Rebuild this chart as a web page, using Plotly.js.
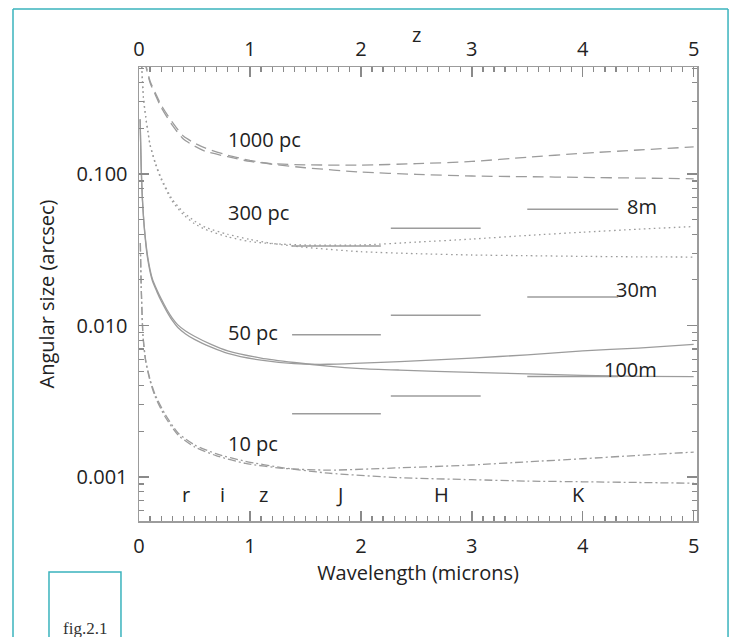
<!DOCTYPE html>
<html>
<head>
<meta charset="utf-8">
<script src="https://cdn.plot.ly/plotly-3.0.1.min.js"></script>
<style>html,body{margin:0;padding:0;background:#fff;}#chart{width:731px;height:637px;}</style>
</head>
<body>
<div id="chart"></div>
<script>
// ---- data ----
// 1000 pc (dashed)
const wl1000 = [0.05, 0.1, 0.15, 0.2, 0.3, 0.4, 0.5, 0.6, 0.8, 1.0, 1.2, 1.5, 2.0, 2.5, 3.0, 3.5, 4.0, 4.5, 5.0];
const as1000A = [0.56, 0.40, 0.33, 0.275, 0.21, 0.17, 0.153, 0.141, 0.130, 0.121, 0.117, 0.115, 0.1145, 0.117, 0.121, 0.129, 0.137, 0.144, 0.151];
const as1000B = [0.57, 0.41, 0.34, 0.285, 0.22, 0.178, 0.16, 0.148, 0.133, 0.123, 0.116, 0.110, 0.103, 0.0995, 0.097, 0.096, 0.095, 0.094, 0.093];
// 300 pc (dotted)
const wl300 = [0.02, 0.04, 0.06, 0.08, 0.1, 0.15, 0.2, 0.3, 0.4, 0.5, 0.6, 0.8, 1.0, 1.2, 1.5, 2.0, 2.5, 3.0, 3.5, 4.0, 4.5, 5.0];
const as300A = [0.6, 0.32, 0.24, 0.19, 0.155, 0.115, 0.092, 0.066, 0.054, 0.047, 0.043, 0.0385, 0.0358, 0.0347, 0.034, 0.034, 0.0355, 0.0372, 0.0393, 0.0413, 0.0432, 0.045];
const as300B = [0.6, 0.32, 0.24, 0.19, 0.156, 0.117, 0.094, 0.068, 0.056, 0.049, 0.0445, 0.040, 0.037, 0.0348, 0.0328, 0.0307, 0.0298, 0.0292, 0.0289, 0.0286, 0.0284, 0.0283];
// 50 pc (solid)
const wl50 = [0.01, 0.02, 0.03, 0.05, 0.08, 0.12, 0.16, 0.2, 0.25, 0.3, 0.35, 0.42, 0.5, 0.65, 0.8, 1.1, 1.4, 1.7, 2.0, 2.35, 3.0, 3.5, 4.0, 4.5, 5.0];
const as50A = [0.23, 0.11, 0.07, 0.042, 0.027, 0.0198, 0.0168, 0.0145, 0.0124, 0.0108, 0.0097, 0.0088, 0.0081, 0.0072, 0.00655, 0.0059, 0.0056, 0.00555, 0.00565, 0.00578, 0.0061, 0.0064, 0.0068, 0.0071, 0.0075];
const as50B = [0.23, 0.11, 0.07, 0.043, 0.028, 0.0204, 0.0173, 0.0150, 0.0128, 0.0112, 0.0101, 0.0092, 0.0085, 0.0075, 0.0068, 0.0061, 0.0057, 0.0054, 0.0052, 0.00508, 0.0049, 0.0048, 0.00468, 0.00462, 0.0046];
// 10 pc (dash-dot)
const wl10 = [0.012, 0.02, 0.036, 0.06, 0.1, 0.145, 0.235, 0.35, 0.5, 0.7, 0.96, 1.3, 1.71, 2.35, 3.0, 3.5, 4.0, 4.5, 5.0];
const as10A = [0.035, 0.018, 0.0085, 0.0058, 0.0043, 0.0034, 0.0025, 0.0019, 0.00158, 0.00138, 0.00123, 0.00114, 0.00111, 0.00115, 0.0012, 0.00126, 0.00132, 0.00139, 0.00146];
const as10B = [0.035, 0.018, 0.0086, 0.0059, 0.0044, 0.0035, 0.0026, 0.00196, 0.00163, 0.00142, 0.00127, 0.00115, 0.00106, 0.00099, 0.00096, 0.00094, 0.00093, 0.00092, 0.00091];

// telescope diffraction bars (J, H, K)
const bandStart = [1.38, 2.27, 3.50];
const bandEnd = [2.18, 3.08, 4.32];
const bar8m = [0.0335, 0.0438, 0.0585];
const bar30m = [0.0087, 0.0117, 0.0154];
const bar100m = [0.00262, 0.00343, 0.0046];

// text labels
const distLabels = ["1000 pc", "300 pc", "50 pc", "10 pc"];
const distLabelY = [0.168, 0.056, 0.0090, 0.00167];
const telLabels = ["8m", "30m", "100m"];
const telLabelY = [0.0610, 0.0172, 0.00510];
const bandLabels = ["r", "i", "z", "J", "H", "K"];
const bandLabelX = [0.42, 0.75, 1.12, 1.81, 2.73, 3.96];
const xTickVals = [0, 1, 2, 3, 4, 5];

// ---- build ----
const grey = '#9c9c9c';
const tickGrey = '#8a8a8a';
const txt = '#222222';
const teal = '#3ab3bd';
const FONT = '"Open Sans", "Noto Sans", sans-serif';
const XR = [0, 5.03];

const traces = [];
function curve(x, y, dash) {
  traces.push({x: x, y: y, type: 'scatter', mode: 'lines', hoverinfo: 'skip',
    line: {color: grey, width: 1.3, dash: dash, shape: 'spline', smoothing: 0.6}});
}
curve(wl1000, as1000A, '11px,6px');
curve(wl1000, as1000B, '11px,6px');
curve(wl300, as300A, '1.6px,3.4px');
curve(wl300, as300B, '1.6px,3.4px');
curve(wl50, as50A, 'solid');
curve(wl50, as50B, 'solid');
curve(wl10, as10A, '8px,3px,2px,3px');
curve(wl10, as10B, '8px,3px,2px,3px');

[bar8m, bar30m, bar100m].forEach(function (vals) {
  for (let i = 0; i < vals.length; i++) {
    traces.push({x: [bandStart[i], bandEnd[i]], y: [vals[i], vals[i]], type: 'scatter', mode: 'lines',
      hoverinfo: 'skip', line: {color: grey, width: 1.5}});
  }
});
// invisible trace for the top axis
traces.push({x: [0, 5], y: [0.01, 0.01], xaxis: 'x2', yaxis: 'y', mode: 'none', type: 'scatter', hoverinfo: 'skip'});

const annotations = [];
distLabels.forEach(function (t, i) {
  annotations.push({x: 0.78, y: Math.log10(distLabelY[i]), xref: 'x', yref: 'y', text: t, showarrow: false,
    xanchor: 'left', yanchor: 'middle', font: {family: FONT, size: 20, color: txt}});
});
telLabels.forEach(function (t, i) {
  annotations.push({x: 4.685, y: Math.log10(telLabelY[i]), xref: 'x', yref: 'y', text: t, showarrow: false,
    xanchor: 'right', yanchor: 'middle', font: {family: FONT, size: 20, color: txt}});
});
bandLabels.forEach(function (t, i) {
  annotations.push({x: bandLabelX[i], y: Math.log10(0.000772), xref: 'x', yref: 'y', text: t, showarrow: false,
    xanchor: 'center', yanchor: 'middle', font: {family: FONT, size: 20, color: txt}});
});
// top axis title "z"
annotations.push({x: 0.497, y: 1.0705, xref: 'paper', yref: 'paper', text: 'z', showarrow: false,
  xanchor: 'center', yanchor: 'middle', font: {family: FONT, size: 20, color: txt}});
annotations.push({x: -0.0968, y: -0.2357, xref: 'paper', yref: 'paper', text: 'fig.2.1', showarrow: false,
  xanchor: 'center', yanchor: 'middle', font: {family: '"Liberation Serif", serif', size: 17, color: '#333'}});

// paper coords: x=(px-139)/558, y=(521-py)/454
const shapes = [
  {type: 'line', xref: 'paper', yref: 'paper', x0: -0.2258, x1: -0.2258, y0: 1.1278, y1: -0.27, line: {color: teal, width: 1.5}},
  {type: 'line', xref: 'paper', yref: 'paper', x0: -0.2258, x1: 1.0556, y0: 1.1278, y1: 1.1278, line: {color: teal, width: 1.5}},
  {type: 'line', xref: 'paper', yref: 'paper', x0: 1.0556, x1: 1.0556, y0: 1.1278, y1: -0.27, line: {color: teal, width: 1.5}},
  {type: 'rect', xref: 'paper', yref: 'paper', x0: -0.1613, x1: -0.0323, y0: -0.1123, y1: -0.30, line: {color: teal, width: 1.5}}
];

const layout = {
  width: 731, height: 637,
  margin: {l: 139, r: 34, t: 67, b: 116},
  paper_bgcolor: '#ffffff', plot_bgcolor: '#ffffff',
  showlegend: false,
  font: {family: FONT, color: txt},
  xaxis: {
    range: XR, tickmode: 'linear', tick0: 0, dtick: 1,
    showgrid: false, zeroline: false, showline: true, linecolor: grey, linewidth: 1.5,
    ticks: 'inside', ticklen: 10, tickwidth: 1.5, tickcolor: tickGrey, mirror: 'ticks',
    minor: {ticks: 'inside', dtick: 0.1, tick0: 0, ticklen: 5, tickwidth: 1.2, tickcolor: tickGrey, showgrid: false},
    tickfont: {family: FONT, size: 20, color: txt}, ticklabelstandoff: 6,
    title: {text: 'Wavelength (microns)', font: {family: FONT, size: 20, color: txt}, standoff: 6}
  },
  xaxis2: {
    overlaying: 'x', side: 'top', range: XR, tickmode: 'array', tickvals: xTickVals,
    showgrid: false, zeroline: false, showline: false, ticks: '',
    tickfont: {family: FONT, size: 20, color: txt}, ticklabelstandoff: 6
  },
  yaxis: {
    type: 'log', range: [-3.2904, -0.2937], dtick: 1, tickformat: '.3f',
    showgrid: false, zeroline: false, showline: true, linecolor: grey, linewidth: 1.5,
    ticks: 'inside', ticklen: 10, tickwidth: 1.5, tickcolor: tickGrey, mirror: 'ticks',
    minor: {dtick: 'D1', ticks: 'inside', ticklen: 5, tickwidth: 1.2, tickcolor: tickGrey, showgrid: false},
    tickfont: {family: FONT, size: 20, color: txt}, ticklabelstandoff: 6,
    title: {text: 'Angular size (arcsec)', font: {family: FONT, size: 20, color: txt}, standoff: 16}
  },
  annotations: annotations,
  shapes: shapes
};

Plotly.newPlot('chart', traces, layout, {displayModeBar: false, staticPlot: true});
</script>
</body>
</html>
